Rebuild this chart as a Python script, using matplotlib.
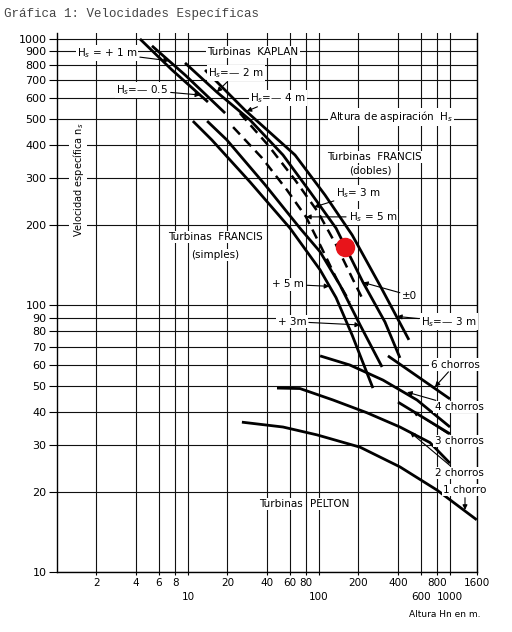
import matplotlib
matplotlib.use("Agg")
import matplotlib.pyplot as plt
from matplotlib.ticker import NullLocator

# alturas H (m) y velocidades especificas ns
kap_a_h = [4.3, 7.55, 14.2]
kap_a_ns = [1000, 765, 580]
kap_b_h = [5.31, 9.49, 19.2]
kap_b_ns = [942, 733, 527]

# Hs = -2 m (Kaplan) -> +-0 (Francis)
hs0_h = [9.49, 16.6, 29.7, 53.1, 85.4, 135, 217, 319, 415]
hs0_ns = [813, 632, 497, 367, 267, 195, 122, 86.7, 63.6]
# Hs = -4 m (Kaplan) -> -3 m (Francis)
hsm3_h = [13.5, 27.2, 65.6, 111, 179, 292, 486]
hsm3_ns = [765, 541, 367, 260, 184, 119, 74.3]

# Francis simples
fr5_h = [10.9, 15.2, 29.7, 60.1, 102, 135, 179, 258]
fr5_ns = [492, 418, 291, 195, 136, 107, 77.5, 49.0]
fr3_h = [14.0, 19.8, 38.7, 71.6, 102, 145, 206, 303]
fr3_ns = [492, 418, 284, 195, 159, 119, 84.5, 58.8]

# Francis dobles (discontinuas)
fd3_h = [24.9, 40.8, 65.6, 98.3, 135, 179, 221]
fd3_ns = [527, 400, 296, 224, 169, 127, 103]
fd5_h = [22.1, 36.7, 57, 79.6, 105, 137, 172]
fd5_ns = [467, 358, 271, 215, 164, 125, 103]

# Pelton
p1_h = [25.8, 53.1, 96.6, 206, 415, 796, 1600]
p1_ns = [36.5, 35.0, 32.7, 29.4, 24.8, 20.3, 15.7]
p2_h = [47.8, 71.6, 128, 232, 415, 703, 1000]
p2_ns = [49.0, 48.8, 44.2, 39.6, 35.0, 30.6, 25.6]
p3_h = [401, 1000]
p3_ns = [43.4, 33.0]
p4_h = [102, 172, 308, 560, 1000]
p4_ns = [64.7, 59.8, 52.5, 44.2, 35.0]
p6_h = [336, 590, 1000]
p6_ns = [64.7, 53.4, 44.6]

punto_h, punto_ns = 158, 166

xticks = [2, 4, 6, 8, 10, 20, 40, 60, 80, 100, 200, 400, 600, 800, 1000, 1600]
xrow1 = [2, 4, 6, 8, 20, 40, 60, 80, 200, 400, 800, 1600]
xrow2 = [10, 100, 600, 1000]
yticks = [10, 20, 30, 40, 50, 60, 70, 80, 90, 100, 200, 300, 400, 500,
          600, 700, 800, 900, 1000]

fig = plt.figure(figsize=(5.12, 6.32), dpi=100)
ax = fig.add_axes([0.1113, 0.0949, 0.8198, 0.8524])
ax.set_xscale("log")
ax.set_yscale("log")
ax.set_xlim(1, 1600)
ax.set_ylim(10, 1050)

ax.set_xticks(xticks)
ax.set_xticklabels([str(v) if v in xrow1 else "" for v in xticks])
ax.set_yticks(yticks)
ax.set_yticklabels([str(v) for v in yticks])
ax.xaxis.set_minor_locator(NullLocator())
ax.yaxis.set_minor_locator(NullLocator())
ax.grid(True, color="#111111", lw=0.8, zorder=1)
ax.set_axisbelow(True)
ax.tick_params(axis="y", length=6, width=0.8, pad=1.5, labelsize=8)
ax.tick_params(axis="x", length=2, width=0.8, pad=2.5, labelsize=7.5)
ax.spines["top"].set_visible(False)
for s in ["left", "right", "bottom"]:
    ax.spines[s].set_linewidth(1.0)

xtr = ax.get_xaxis_transform()
for v in xrow2:
    ax.text(v, -0.047, str(v), transform=xtr, fontsize=7.5, ha="center",
            va="center")

solid = dict(color="black", lw=2.0, solid_capstyle="butt", zorder=4)
for h, ns in [(kap_a_h, kap_a_ns), (kap_b_h, kap_b_ns), (hs0_h, hs0_ns),
              (hsm3_h, hsm3_ns), (fr5_h, fr5_ns), (fr3_h, fr3_ns),
              (p1_h, p1_ns), (p2_h, p2_ns), (p3_h, p3_ns), (p4_h, p4_ns),
              (p6_h, p6_ns)]:
    ax.plot(h, ns, **solid)
for h, ns in [(fd3_h, fd3_ns), (fd5_h, fd5_ns)]:
    ax.plot(h, ns, color="black", lw=1.8, ls=(0, (4, 2.5)), zorder=4)

ax.plot(punto_h, punto_ns, "o", color="#e8141a", ms=13, zorder=6)

box = dict(boxstyle="square,pad=0.12", fc="white", ec="none")
arrow = dict(arrowstyle="-|>", color="black", lw=0.8, mutation_scale=7,
             shrinkA=1, shrinkB=0)
fs = 7.5

def label(txt, x, y, **kw):
    ax.text(x, y, txt, fontsize=fs, ha="center", va="center", bbox=box,
            zorder=3, **kw)

def flecha(txt, xt, yt, xa, ya):
    ax.annotate(txt, xy=(xa, ya), xytext=(xt, yt), fontsize=fs,
                ha="center", va="center", bbox=box, arrowprops=arrow,
                zorder=5)

flecha("H$_s$ = + 1 m", 2.41, 886, 7.16, 828)
label("Turbinas  KAPLAN", 31.4, 894)
flecha("H$_s$=— 2 m", 23.3, 745, 16.6, 632)
flecha("H$_s$=— 0.5", 4.46, 644, 12.4, 616)
flecha("H$_s$=— 4 m", 48.7, 600, 28, 535)
label("Altura de aspiración  H$_s$", 355, 510)
label("Turbinas  FRANCIS", 263, 361)
label("(dobles)", 245, 320)
flecha("H$_s$= 3 m", 202, 264, 91.6, 234)
flecha("H$_s$ = 5 m", 258, 215, 79.6, 215)
label("Turbinas  FRANCIS", 16.1, 181)
label("(simples)", 16.1, 155)
flecha("+ 5 m", 58, 120, 120, 118)
flecha("+ 3m", 62.2, 87, 206, 84.5)
flecha("±0", 495, 109, 217, 122)
flecha("H$_s$=— 3 m", 982, 87, 394, 91)
flecha("6 chorros", 1092, 60, 768, 49.5)
flecha("4 chorros", 1172, 41.6, 470, 47.3)
flecha("3 chorros", 1172, 31.0, 522, 40.1)
flecha("2 chorros", 1172, 23.5, 495, 33.5)
flecha("1 chorro", 1302, 20.3, 1302, 17.1)
label("Turbinas", 51.3, 18.0)
label("PELTON", 121, 18.0)

ax.text(1.45, 296, "Velocidad específica n$_s$", rotation=90, fontsize=7,
        ha="center", va="center", bbox=box, zorder=3)

fig.text(0.869, 0.027, "Altura Hn en m.", fontsize=6.5, ha="center",
         va="center")
fig.text(0.008, 1 - 14 / 632, "Gráfica 1: Velocidades Específicas",
         fontsize=9, family="Liberation Mono", color="#444444",
         ha="left", va="center")

fig.savefig("out.png", dpi=100)
